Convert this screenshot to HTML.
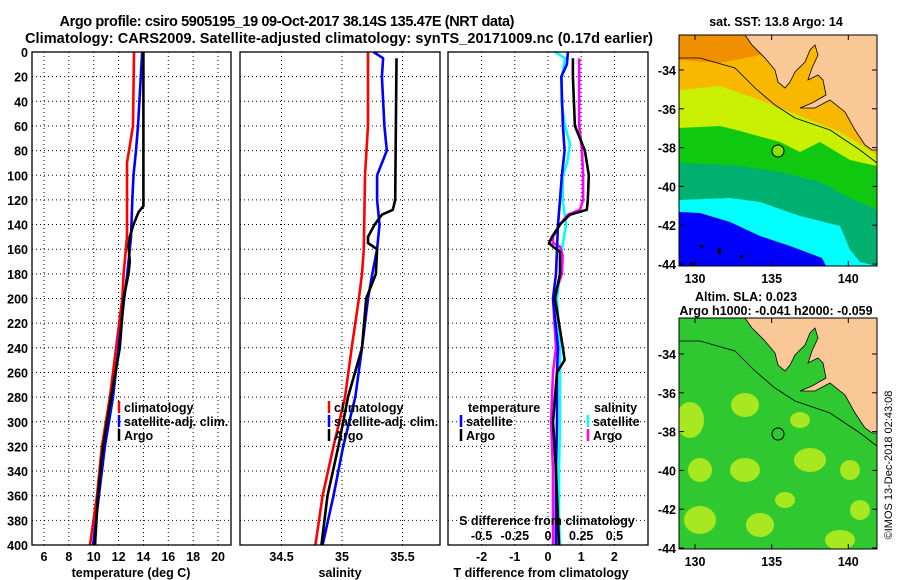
<!DOCTYPE html>
<html><head><meta charset="utf-8">
<style>
html,body{margin:0;padding:0;background:#fff;}
svg{display:block;font-family:"Liberation Sans",Arial,sans-serif;font-weight:bold;}
</style></head>
<body>
<svg id="fig" width="900" height="580" viewBox="0 0 900 580" xmlns="http://www.w3.org/2000/svg">
  <text x="287" y="26" font-size="14.5" text-anchor="middle" textLength="455">Argo profile: csiro 5905195_19 09-Oct-2017 38.14S 135.47E (NRT data)</text>
  <text x="339" y="43" font-size="14.5" text-anchor="middle" textLength="628">Climatology: CARS2009. Satellite-adjusted climatology: synTS_20171009.nc (0.17d earlier)</text>

  <g id="panels"></g>

  <!-- SST map -->
  <g>
    <text x="776" y="26" font-size="12.5" text-anchor="middle">sat. SST: 13.8 Argo: 14</text>
    <clipPath id="c1"><rect x="679" y="35" width="198" height="231"/></clipPath>
    <g clip-path="url(#c1)">
      <rect x="679" y="35" width="198" height="231" fill="#0000ff"/>
      <polygon fill="#00ffff" points="679,35 877,35 877,266 826,266 822,258 790,246 760,236 730,222 700,213 679,212"/>
      <polygon fill="#00b070" points="679,35 877,35 877,266 860,262 850,250 840,226 800,216 760,202 730,198 679,200"/>
      <polygon fill="#10c810" points="679,35 877,35 877,210 850,198 820,182 780,172 740,166 679,163"/>
      <polygon fill="#c8f000" points="679,35 877,35 877,166 850,160 820,142 800,152 780,142 740,131 720,126 679,128"/>
      <polygon fill="#f8b800" points="679,35 877,35 877,155 840,132 800,116 760,100 720,86 679,90"/>
      <polygon fill="#f09000" points="679,35 770,35 760,55 720,63 679,60"/>
      <rect x="690" y="262" width="3" height="3" fill="#000"/><rect x="700" y="245" width="3" height="3" fill="#000"/><rect x="718" y="248" width="3" height="6" fill="#000"/><rect x="740" y="255" width="3" height="3" fill="#000"/>
      <polygon fill="#f9c896" stroke="#000" stroke-width="0.8" points="745,35 752,45 765,58 775,70 778,82 785,88 790,82 795,72 805,62 810,50 815,45 818,55 812,68 808,80 818,75 823,80 826,95 812,103 800,108 815,108 830,100 845,112 855,130 865,145 872,150 877,150 877,35"/>
      <polyline fill="none" stroke="#000" stroke-width="0.8" points="679,58 700,58 735,68 755,88 775,105 795,118 830,130 860,150 877,163"/>
      <circle cx="778" cy="151" r="6" fill="#88e000" stroke="#000" stroke-width="1"/>
    </g>
    <rect x="679" y="35" width="198" height="231" fill="none" stroke="#000"/>
    <g id="map1ticks"></g>
  </g>

  <!-- SLA map -->
  <g>
    <text x="746" y="301" font-size="12.5" text-anchor="middle">Altim. SLA: 0.023</text>
    <text x="776" y="315" font-size="12.5" text-anchor="middle">Argo h1000: -0.041 h2000: -0.059</text>
    <clipPath id="c2"><rect x="679" y="318" width="198" height="231"/></clipPath>
    <g clip-path="url(#c2)">
      <rect x="679" y="318" width="198" height="231" fill="#30c830"/>
      <g fill="#a8e820">
        <ellipse cx="690" cy="420" rx="14" ry="18"/><ellipse cx="745" cy="405" rx="14" ry="12"/><ellipse cx="700" cy="470" rx="12" ry="12"/>
        <ellipse cx="745" cy="470" rx="15" ry="12"/><ellipse cx="810" cy="460" rx="16" ry="12"/><ellipse cx="850" cy="470" rx="10" ry="10"/>
        <ellipse cx="700" cy="520" rx="16" ry="14"/><ellipse cx="760" cy="525" rx="14" ry="12"/><ellipse cx="840" cy="540" rx="15" ry="10"/>
        <ellipse cx="800" cy="420" rx="10" ry="8"/><ellipse cx="860" cy="510" rx="10" ry="10"/><ellipse cx="785" cy="500" rx="10" ry="8"/>
      </g>
      <polygon fill="#f9c896" stroke="#000" stroke-width="0.8" points="745,318 752,328 765,341 775,353 778,365 785,371 790,365 795,355 805,345 810,333 815,328 818,338 812,351 808,363 818,358 823,363 826,378 812,386 800,391 815,391 830,383 845,395 855,413 865,428 872,433 877,433 877,318"/>
      <polyline fill="none" stroke="#000" stroke-width="0.8" points="679,341 700,341 735,351 755,371 775,388 795,401 830,413 860,433 877,446"/>
      <circle cx="778" cy="434" r="6" fill="none" stroke="#000" stroke-width="1"/>
    </g>
    <rect x="679" y="318" width="198" height="231" fill="none" stroke="#000"/>
    <g id="map2ticks"></g>
  </g>
  <text x="0" y="0" font-size="11" font-weight="normal" transform="translate(892,465) rotate(-90)" text-anchor="middle">©IMOS 13-Dec-2018 02:43:08</text>
</svg>
<script>
// ---- data ----
const depthTicks = [0,20,40,60,80,100,120,140,160,180,200,220,240,260,280,300,320,340,360,380,400];
const tempTicks = [6,8,10,12,14,16,18,20];
const salTicks = [34.5,35,35.5];
const salTickLabels = ["34.5","35","35.5"];
const tdiffTicks = [-2,-1,0,1,2];
const sdiffTicks = [-0.5,-0.25,0,0.25,0.5];
const sdiffTickLabels = ["-0.5","-0.25","0","0.25","0.5"];

const climTDepth = [0,60,80,90,150,180,200,240,280,320,360,400];
const climT      = [13.24,13.16,12.84,12.68,12.68,12.4,12.3,11.8,11.3,10.66,10.26,9.7];
const satTDepth  = [0,60,80,100,120,150,180,200,240,280,320,360,400];
const satT       = [13.9,13.56,13.4,13.2,13.1,13.0,12.7,12.45,12.0,11.55,10.9,10.42,9.95];
const argoTDepth = [0,125,130,140,150,158,170,180,200,240,280,320,360,400];
const argoT      = [14.0,14.0,13.6,13.2,12.9,12.8,12.9,12.8,12.4,12.1,11.4,10.75,10.34,10.1];

const climSDepth = [0,60,100,160,180,200,240,280,320,360,400];
const climS      = [35.215,35.215,35.19,35.18,35.165,35.14,35.08,35.025,34.93,34.84,34.78];
const satSDepth  = [0,5,20,60,80,100,120,140,160,180,200,240,280,320,360,400];
const satS       = [35.26,35.34,35.33,35.35,35.37,35.29,35.29,35.31,35.29,35.25,35.215,35.165,35.11,35.01,34.93,34.84];
const argoSDepth = [5,120,128,132,140,150,155,160,180,200,240,280,320,360,400];
const argoS      = [35.45,35.44,35.42,35.33,35.27,35.215,35.215,35.29,35.28,35.2,35.165,35.05,34.97,34.88,34.83];

const dTDepth     = [0,10,20,60,80,100,120,140,160,180,200,240,260,300,340,380,400];
const satTDiff    = [0.6,0.57,0.4,0.45,0.5,0.42,0.36,0.3,0.27,0.24,0.15,0.3,0.27,0.27,0.24,0.24,0.24];
const argoTDDepth = [5,20,60,80,100,120,128,132,140,150,155,158,162,180,200,240,250,260,300,340,380,400];
const argoTDiff   = [0.75,0.75,0.81,1.11,1.23,1.2,1.17,0.66,0.36,0.12,0.03,0.15,0.36,0.36,0.21,0.45,0.5,0.27,0.15,0.24,0.3,0.33];
const dSDepth     = [0,5,20,40,60,75,90,100,120,140,160,180,200,240,260,300,340,380,400];
const satSDiff    = [0.053,0.128,0.105,0.1,0.128,0.166,0.143,0.113,0.11,0.136,0.105,0.09,0.068,0.09,0.09,0.09,0.083,0.083,0.09];
const argoSDDepth = [5,60,80,100,120,128,132,140,150,155,158,165,180,200,240,260,300,340,380,400];
const argoSDiff   = [0.235,0.235,0.256,0.264,0.264,0.24,0.15,0.09,0.038,0.038,0.09,0.11,0.105,0.038,0.06,0.038,0.023,0.038,0.038,0.038];

const mapLatTicks = [-34,-36,-38,-40,-42,-44];
const mapLonTicks = [130,135,140];

// ---- scales ----
const yD = d => 52 + d*1.2325;
const xT = t => 44 + (t-6)*12.43;
const xS = s => 342 + (s-35)*121;
const xTD = t => 548 + t*33.2;
const xSD = s => 548 + s*132.8;
const latY1 = la => 70 + (-34-la)*19.4;
const latY2 = la => 354 + (-34-la)*19.4;
const lonX = lo => 695 + (lo-130)*15.33;

const NS = "http://www.w3.org/2000/svg";
const root = document.getElementById('panels');
function mk(tag, parent, attrs){
  const e = document.createElementNS(NS, tag);
  for (const k in attrs) e.setAttribute(k, attrs[k]);
  parent.appendChild(e);
  return e;
}

const panels = [
  {x0:32, x1:231, name:'temperature-panel', vx: tempTicks.map(xT), labels: tempTicks.map(String), lx: tempTicks.map(xT), title:'temperature (deg C)', tx:131, ylabels:true},
  {x0:240, x1:440, name:'salinity-panel', vx: salTicks.map(xS), labels: salTickLabels, lx: salTicks.map(xS), title:'salinity', tx:340},
  {x0:448, x1:648, name:'difference-panel', vx: tdiffTicks.map(xTD), labels: tdiffTicks.map(String), lx: tdiffTicks.map(xTD), title:'T difference from climatology', tx:541}
];

panels.forEach(p => {
  const g = mk('g', root, {});
  
  
  depthTicks.forEach(d => {
    const l = mk('line', g, {x1:p.x0, x2:p.x1, y1:yD(d), y2:yD(d), stroke:'#000', 'stroke-width':1, 'stroke-dasharray':'1,3'});
    
    
    if (p.ylabels) {
      const t = mk('text', g, {x:28, y:yD(d)+5, 'font-size':12.5, 'text-anchor':'end'});
      t.textContent = d;
      
      
    }
  });
  p.vx.forEach((x,i) => {
    const l = mk('line', g, {x1:x, x2:x, y1:52, y2:545, stroke:'#000', 'stroke-width':1, 'stroke-dasharray':'1,3'});
    
    
    const t = mk('text', g, {x:p.lx[i], y:561, 'font-size':12.5, 'text-anchor':'middle'});
    t.textContent = p.labels[i];
    
    
  });
  const at = mk('text', g, {x:p.tx, y:577, 'font-size':12.5, 'text-anchor':'middle'});
  at.textContent = p.title;
  
  
  p.g = g;
});

function line(parent, depths, vals, sx, color, name){
  const pts = depths.map((d,i) => sx(vals[i]).toFixed(1)+','+yD(d).toFixed(1)).join(' ');
  const l = mk('polyline', parent, {points:pts, fill:'none', stroke:color, 'stroke-width':2.6, 'stroke-linejoin':'round'});
  
  
}
line(panels[0].g, climTDepth, climT, xT, '#ff0000', 'climatology-temperature-line');
line(panels[0].g, satTDepth, satT, xT, '#0000ff', 'satellite-temperature-line');
line(panels[0].g, argoTDepth, argoT, xT, '#000000', 'argo-temperature-line');
line(panels[1].g, climSDepth, climS, xS, '#ff0000', 'climatology-salinity-line');
line(panels[1].g, satSDepth, satS, xS, '#0000ff', 'satellite-salinity-line');
line(panels[1].g, argoSDepth, argoS, xS, '#000000', 'argo-salinity-line');
line(panels[2].g, dSDepth, satSDiff, xSD, '#00ffff', 'satellite-salinity-diff-line');
line(panels[2].g, argoSDDepth, argoSDiff, xSD, '#ff00ff', 'argo-salinity-diff-line');
line(panels[2].g, dTDepth, satTDiff, xTD, '#0000ff', 'satellite-temperature-diff-line');
line(panels[2].g, argoTDDepth, argoTDiff, xTD, '#000000', 'argo-temperature-diff-line');

// secondary S-difference axis labels
const sd = mk('text', panels[2].g, {x:547, y:525, 'font-size':12.5, 'text-anchor':'middle'});
sd.textContent = 'S difference from climatology';


sdiffTicks.forEach((s,i) => {
  const t = mk('text', panels[2].g, {x:xSD(s), y:540, 'font-size':12.5, 'text-anchor':'middle'});
  t.textContent = sdiffTickLabels[i];
  
  
});

// frames
panels.forEach(p => {
  const r = mk('rect', p.g, {x:p.x0, y:52, width:p.x1-p.x0, height:493, fill:'none', stroke:'#000', 'stroke-width':1.3});
  
  
});

// legends
function legend(parent, x, y, color, label){
  const l = mk('line', parent, {x1:x, x2:x, y1:y-11, y2:y+1, stroke:color, 'stroke-width':2.5});
  
  
  if (label) {
    const t = mk('text', parent, {x:x+5, y:y, 'font-size':12.5});
    t.textContent = label;
    
    
  }
}
legend(panels[0].g, 119, 412, '#ff0000', 'climatology');
legend(panels[0].g, 119, 426, '#0000ff', 'satellite-adj. clim.');
legend(panels[0].g, 119, 440, '#000000', 'Argo');
legend(panels[1].g, 329, 412, '#ff0000', 'climatology');
legend(panels[1].g, 329, 426, '#0000ff', 'satellite-adj. clim.');
legend(panels[1].g, 329, 440, '#000000', 'Argo');
const lt = mk('text', panels[2].g, {x:468, y:412, 'font-size':12.5});
lt.textContent = 'temperature';


const ls = mk('text', panels[2].g, {x:594, y:412, 'font-size':12.5});
ls.textContent = 'salinity';


legend(panels[2].g, 461, 426, '#0000ff', 'satellite');
legend(panels[2].g, 461, 440, '#000000', 'Argo');
legend(panels[2].g, 588, 426, '#00ffff', 'satellite');
legend(panels[2].g, 588, 440, '#ff00ff', 'Argo');

// map ticks
function mapTicks(id, latY, y0, y1){
  const g = document.getElementById(id);
  mapLatTicks.forEach(la => {
    const y = latY(la);
    mk('line', g, {x1:679, x2:684, y1:y, y2:y, stroke:'#000'});
    mk('line', g, {x1:872, x2:877, y1:y, y2:y, stroke:'#000'});
    const t = mk('text', g, {x:676, y:y+5, 'font-size':12.5, 'text-anchor':'end'});
    t.textContent = la;
    
    
  });
  mapLonTicks.forEach(lo => {
    const x = lonX(lo);
    mk('line', g, {x1:x, x2:x, y1:y0, y2:y0+5, stroke:'#000'});
    mk('line', g, {x1:x, x2:x, y1:y1-5, y2:y1, stroke:'#000'});
    const t = mk('text', g, {x:x, y:y1+17, 'font-size':12.5, 'text-anchor':'middle'});
    t.textContent = lo;
    
    
  });
}
mapTicks('map1ticks', latY1, 35, 266);
mapTicks('map2ticks', latY2, 318, 549);
</script>
</body></html>
